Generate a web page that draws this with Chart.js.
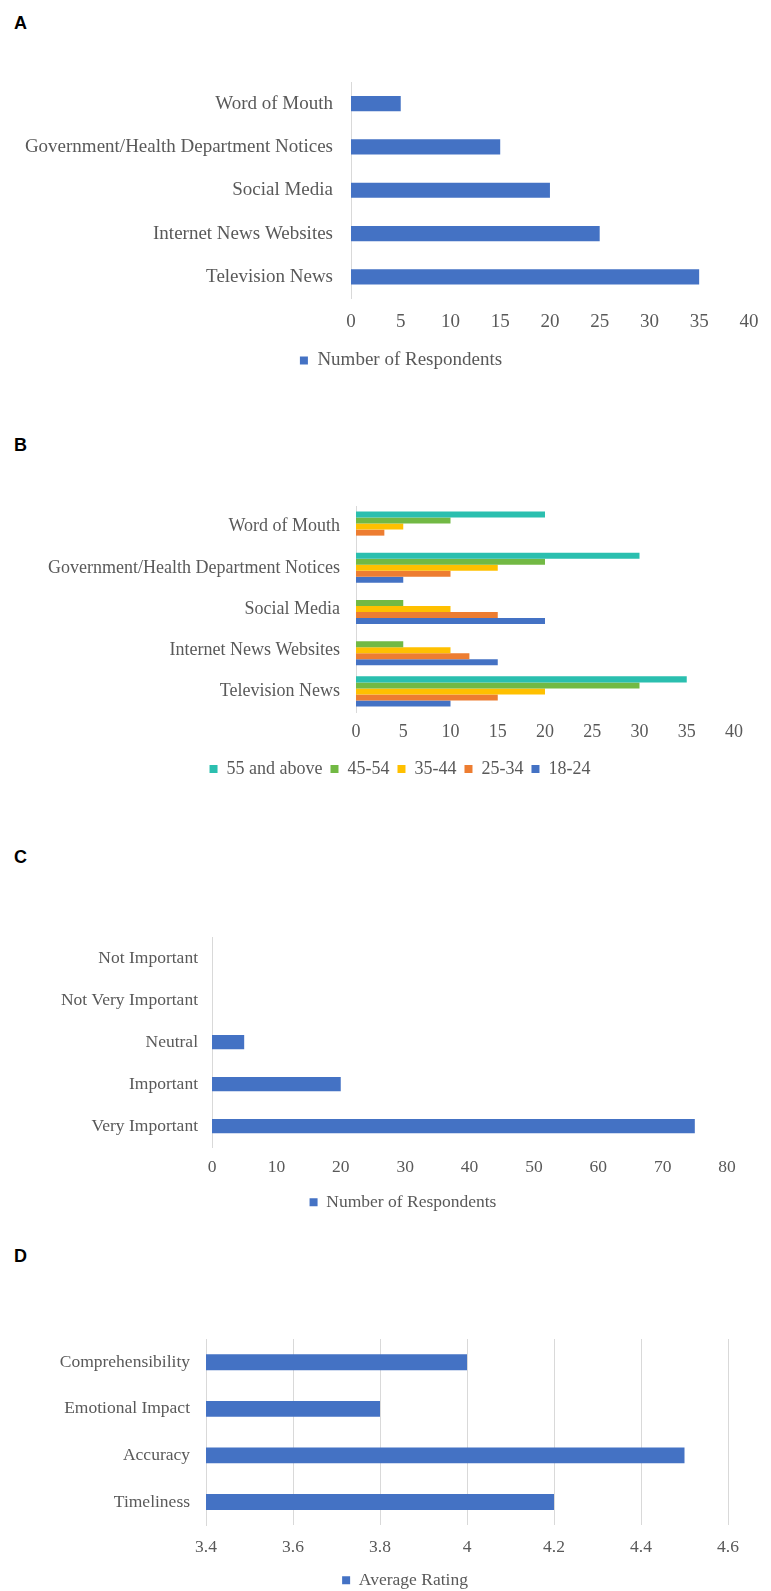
<!DOCTYPE html>
<html>
<head>
<meta charset="utf-8">
<script src="https://cdn.jsdelivr.net/npm/chart.js@4.4.1/dist/chart.umd.min.js"></script>
<style>
html, body { margin:0; padding:0; background:#ffffff; overflow:hidden; width:771px; height:1591px; }
.panel-label { position:absolute; left:14px; font:bold 18px "Liberation Sans", Arial, sans-serif; color:#000; line-height:1; }
canvas { position:absolute; left:0; }
</style>
</head>
<body>
<div class="panel-label" style="top:14px">A</div>
<div class="panel-label" style="top:436px">B</div>
<div class="panel-label" style="top:848px">C</div>
<div class="panel-label" style="top:1247px">D</div>
<canvas id="cA" width="771" height="380" style="top:0px"></canvas>
<canvas id="cB" width="771" height="408" style="top:380px"></canvas>
<canvas id="cC" width="771" height="432" style="top:789px"></canvas>
<canvas id="cD" width="771" height="377" style="top:1222px"></canvas>
<script>
// ---------- Data ----------
const sourceCategories = ['Word of Mouth', 'Government/Health Department Notices', 'Social Media', 'Internet News Websites', 'Television News'];
const respondentsBySource = [5, 15, 20, 25, 35];
const ticksA = [0, 5, 10, 15, 20, 25, 30, 35, 40];

const ageGroups = ['55 and above', '45-54', '35-44', '25-34', '18-24'];
const age55plus = [20, 30, 0, 0, 35];
const age45to54 = [10, 20, 5, 5, 30];
const age35to44 = [5, 15, 10, 10, 20];
const age25to34 = [3, 10, 15, 12, 15];
const age18to24 = [0, 5, 20, 15, 10];
const ticksB = [0, 5, 10, 15, 20, 25, 30, 35, 40];

const importanceCategories = ['Not Important', 'Not Very Important', 'Neutral', 'Important', 'Very Important'];
const respondentsByImportance = [0, 0, 5, 20, 75];
const ticksC = [0, 10, 20, 30, 40, 50, 60, 70, 80];

const ratingCategories = ['Comprehensibility', 'Emotional Impact', 'Accuracy', 'Timeliness'];
const averageRatings = [4.0, 3.8, 4.5, 4.2];
const ticksD = [3.4, 3.6, 3.8, 4, 4.2, 4.4, 4.6];

// ---------- Styling ----------
const BLUE = '#4472C4', ORANGE = '#ED7D31', YELLOW = '#FFC000', GREEN = '#72B944', TEAL = '#2BBFAF';
const TEXT = '#595959', AXIS = '#D9D9D9';
const FONT = '"Liberation Serif", "Times New Roman", serif';

// let long category labels extend left of the layout padding (no clipping)
const unclipLabels = {
  id: 'unclipLabels',
  afterLayout(chart) { chart.scales.y.left = 0; }
};

function makeChart(id, labels, datasets, ticks, L) {
  const font = { family: FONT, size: L.font };
  return new Chart(document.getElementById(id), {
    type: 'bar',
    data: { labels: labels, datasets: datasets },
    plugins: [unclipLabels],
    options: {
      indexAxis: 'y',
      responsive: false,
      animation: false,
      layout: { padding: { top: L.padTop, left: L.padL, right: L.padR, bottom: 0 } },
      datasets: { bar: { categoryPercentage: L.catPct, barPercentage: 1, borderWidth: 0 } },
      plugins: {
        tooltip: { enabled: false },
        title: { display: false },
        legend: {
          position: 'bottom',
          labels: { font: font, color: TEXT, boxWidth: 8, boxHeight: 8, padding: 8 }
        }
      },
      scales: {
        x: {
          min: ticks[0], max: ticks[ticks.length - 1],
          afterBuildTicks: s => { s.ticks = ticks.map(v => ({ value: v })); },
          afterFit: s => { s.height = L.xH; },
          grid: { display: L.xGrid, color: AXIS, lineWidth: 1, drawTicks: false },
          border: { display: false },
          ticks: { font: font, color: TEXT, padding: L.xPad, maxRotation: 0, callback: v => String(v) }
        },
        y: {
          afterFit: s => { s.width = L.yW; },
          grid: { display: false, drawTicks: false },
          border: { display: true, color: AXIS, width: 1 },
          ticks: { font: font, color: TEXT, padding: L.yPad, autoSkip: false }
        }
      }
    }
  });
}

makeChart('cA', sourceCategories,
  [{ label: 'Number of Respondents', data: respondentsBySource, backgroundColor: BLUE }],
  ticksA,
  { font: 19, padTop: 82, padL: 45, padR: 14, yW: 306, yPad: 18, xPad: 12.6, xH: 44.5, catPct: 0.35, xGrid: false });

makeChart('cB', sourceCategories,
  [
    { label: ageGroups[0], data: age55plus, backgroundColor: TEAL },
    { label: ageGroups[1], data: age45to54, backgroundColor: GREEN },
    { label: ageGroups[2], data: age35to44, backgroundColor: YELLOW },
    { label: ageGroups[3], data: age25to34, backgroundColor: ORANGE },
    { label: ageGroups[4], data: age18to24, backgroundColor: BLUE }
  ],
  ticksB,
  { font: 18, padTop: 126, padL: 66, padR: 37, yW: 290, yPad: 16, xPad: 9.2, xH: 40, catPct: 0.73, xGrid: false });

makeChart('cC', importanceCategories,
  [{ label: 'Number of Respondents', data: respondentsByImportance, backgroundColor: BLUE }],
  ticksC,
  { font: 17.5, padTop: 148, padL: 79, padR: 44, yW: 133, yPad: 14, xPad: 9.5, xH: 38.25, catPct: 0.34, xGrid: false });

makeChart('cD', ratingCategories,
  [{ label: 'Average Rating', data: averageRatings, backgroundColor: BLUE }],
  ticksD,
  { font: 17.5, padTop: 117, padL: 82, padR: 43, yW: 124, yPad: 16, xPad: 11.5, xH: 38.25, catPct: 0.34, xGrid: true });
</script>
</body>
</html>
